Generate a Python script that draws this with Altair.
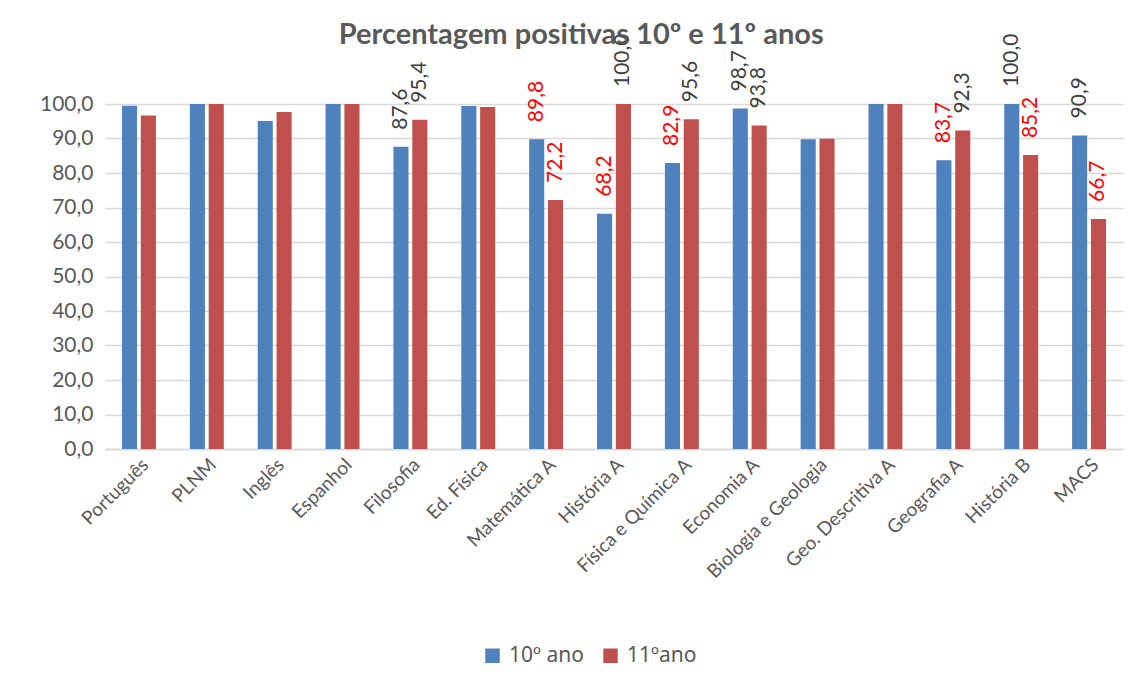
import altair as alt
import pandas as pd

subjects = ["Português", "PLNM", "Inglês", "Espanhol", "Filosofia", "Ed. Física",
            "Matemática A", "História A", "Física e Química A", "Economia A",
            "Biologia e Geologia", "Geo. Descritiva A", "Geografia A", "História B", "MACS"]
series = ["10º ano", "11ºano"]
ano10 = [99.5, 100.0, 95.1, 100.0, 87.6, 99.4, 89.8, 68.2, 82.9, 98.7, 89.8, 100.0, 83.7, 100.0, 90.9]
ano11 = [96.7, 100.0, 97.7, 100.0, 95.4, 99.1, 72.2, 100.0, 95.6, 93.8, 89.9, 100.0, 92.3, 85.2, 66.7]
labels10 = ["", "", "", "", "87,6", "", "89,8", "68,2", "82,9", "98,7", "", "", "83,7", "100,0", "90,9"]
labels11 = ["", "", "", "", "95,4", "", "72,2", "100,0", "95,6", "93,8", "", "", "92,3", "85,2", "66,7"]
RED, GREY = "#FF0000", "#404040"
lblcol10 = ["", "", "", "", GREY, "", RED, RED, RED, GREY, "", "", RED, GREY, GREY]
lblcol11 = ["", "", "", "", GREY, "", RED, GREY, GREY, GREY, "", "", GREY, RED, RED]

rows = []
for i, s in enumerate(subjects):
    rows.append({"Disciplina": s, "Ano": series[0], "Valor": ano10[i], "Rotulo": labels10[i], "Cor": lblcol10[i] or GREY})
    rows.append({"Disciplina": s, "Ano": series[1], "Valor": ano11[i], "Rotulo": labels11[i], "Cor": lblcol11[i] or GREY})
df = pd.DataFrame(rows)

FONT = "Lato"
AXISGREY = "#595959"

base = alt.Chart(df).encode(
    x=alt.X("Disciplina:N", sort=subjects, title=None,
            scale=alt.Scale(paddingInner=0.5, paddingOuter=0.25),
            axis=alt.Axis(labelAngle=-45, labelAlign="right", labelBaseline="top",
                          labelFontSize=19, labelColor=AXISGREY, labelFont=FONT,
                          ticks=False, domainColor="#d9d9d9", domainWidth=1.5,
                          labelPadding=6)),
    xOffset=alt.XOffset("Ano:N", sort=series, scale=alt.Scale(paddingInner=0.2)),
    y=alt.Y("Valor:Q", title=None,
            scale=alt.Scale(domain=[0, 100], nice=False),
            axis=alt.Axis(values=list(range(0, 101, 10)),
                          labelExpr="replace(format(datum.value, '.1f'), '.', ',')",
                          labelFontSize=21, labelColor=AXISGREY, labelFont=FONT,
                          ticks=False, domain=False, gridColor="#d9d9d9", gridWidth=1.5,
                          labelPadding=12)),
)

bars = base.mark_bar().encode(
    color=alt.Color("Ano:N", sort=series,
                    scale=alt.Scale(domain=series, range=["#4F81BD", "#C0504D"]),
                    legend=alt.Legend(title=None, orient="none", direction="horizontal",
                                      legendX=377, legendY=541, symbolType="square",
                                      symbolSize=210, labelFontSize=21, labelFont="Noto Sans",
                                      labelColor=AXISGREY, columnPadding=16, labelOffset=6,
                                      symbolStrokeWidth=0))
)

text = base.mark_text(angle=270, align="left", baseline="middle", dx=17,
                      fontSize=21, font=FONT).encode(
    text="Rotulo:N",
    color=alt.Color("Cor:N", scale=None),
)

chart = alt.layer(bars, text).resolve_scale(color="independent").properties(
    width=1018, height=345,
    autosize=alt.AutoSizeParams(type="none"),
    padding={"left": 97, "top": 96, "right": 16, "bottom": 231},
    title=alt.TitleParams("Percentagem positivas 10º e 11º anos", fontSize=29,
                          font=FONT, fontWeight="bold", color=AXISGREY,
                          anchor="middle", frame="bounds", offset=-16),
).configure_view(stroke=None)

chart.save("out.html", embed_options={"renderer": "svg", "actions": False})
